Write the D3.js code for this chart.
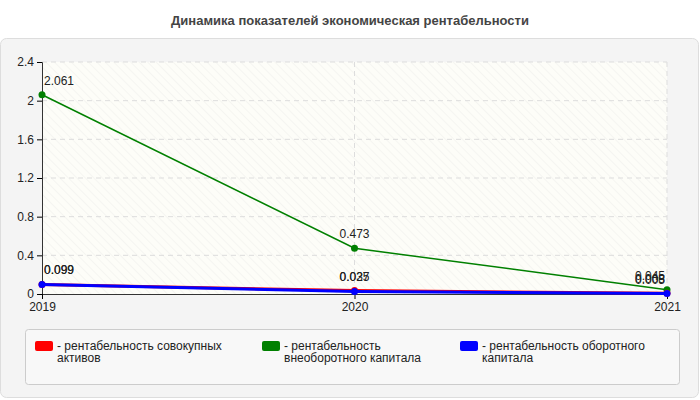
<!DOCTYPE html>
<html><head><meta charset="utf-8">
<script src="https://cdn.jsdelivr.net/npm/d3@7"></script>
<style>body{margin:0;font-family:Arial,"Liberation Sans",sans-serif;background:#fff}</style>
</head><body><main></main>
<script>
// Data
const years = ["2019", "2020", "2021"];
const seriesNames = ["рентабельность совокупных активов", "рентабельность внеоборотного капитала", "рентабельность оборотного капитала"];
const assets = [0.099, 0.035, 0.008];
const fixedCapital = [2.061, 0.473, 0.045];
const workingCapital = [0.099, 0.027, 0.005];
const colors = ["#ff0000", "#008000", "#0000ff"];
const yTicks = [0, 0.4, 0.8, 1.2, 1.6, 2, 2.4];

const w = 700, h = 400;
const plotLeft = 42, plotRight = 667, plotTop = 62, plotBottom = 294;

const svg = d3.select("main").append("svg").attr("width", w).attr("height", h);

// Title
svg.append("text").attr("x", w / 2).attr("y", 25).attr("text-anchor", "middle")
  .attr("font-size", 13).attr("font-weight", "bold").attr("fill", "#444")
  .text("Динамика показателей экономическая рентабельности");

// Panel
svg.append("rect").attr("x", 0.5).attr("y", 38.5).attr("width", w - 2).attr("height", h - 41)
  .attr("rx", 6).attr("fill", "#f4f4f4").attr("stroke", "#ddd");

// Plot background with hatch
const defs = svg.append("defs");
const pat = defs.append("pattern").attr("id", "hatch").attr("width", 6).attr("height", 6)
  .attr("patternUnits", "userSpaceOnUse").attr("patternTransform", "rotate(-45)");
pat.append("rect").attr("width", 6).attr("height", 6).attr("fill", "#fdfdf8");
pat.append("line").attr("x1", 0).attr("y1", 0).attr("x2", 0).attr("y2", 6).attr("stroke", "#eeeeea").attr("stroke-width", 1);
svg.append("rect").attr("x", plotLeft).attr("y", plotTop).attr("width", plotRight - plotLeft).attr("height", plotBottom - plotTop)
  .attr("fill", "url(#hatch)");

const x = d3.scalePoint().domain(years).range([plotLeft, plotRight]);
const y = d3.scaleLinear().domain([0, 2.4]).range([plotBottom, plotTop]);

// Grid
svg.append("g").selectAll("line").data(yTicks.slice(1)).join("line")
  .attr("x1", plotLeft).attr("x2", plotRight).attr("y1", d => y(d)).attr("y2", d => y(d))
  .attr("stroke", "#ddd").attr("stroke-dasharray", "5,4");
svg.append("g").selectAll("line").data(years.slice(1)).join("line")
  .attr("x1", d => x(d)).attr("x2", d => x(d)).attr("y1", plotTop).attr("y2", plotBottom)
  .attr("stroke", "#ddd").attr("stroke-dasharray", "5,4");

// Axes
const yAxis = svg.append("g").attr("transform", `translate(${plotLeft},0)`)
  .call(d3.axisLeft(y).tickValues(yTicks).tickSize(5).tickFormat(d => d3.format("~g")(d)));
const xAxis = svg.append("g").attr("transform", `translate(0,${plotBottom})`)
  .call(d3.axisBottom(x).tickSize(5).tickSizeOuter(0));
[xAxis, yAxis].forEach(a => {
  a.selectAll("text").attr("font-size", 12).attr("fill", "#222").attr("font-family", "Arial, Liberation Sans, sans-serif");
  a.select(".domain").attr("stroke", "#333");
});

// Lines
const allSeries = [fixedCapital, assets, workingCapital];
const allColors = [colors[1], colors[0], colors[2]];
const line = d3.line().x((d, i) => x(years[i])).y(d => y(d));
allSeries.forEach((s, k) => {
  const g = svg.append("g");
  g.append("path").datum(s).attr("d", line).attr("fill", "none")
    .attr("stroke", allColors[k]).attr("stroke-width", k === 0 ? 1.5 : 3);
  g.selectAll("circle").data(s).join("circle")
    .attr("cx", (d, i) => x(years[i])).attr("cy", d => y(d)).attr("r", 3.5).attr("fill", allColors[k]);
  g.selectAll("text").data(s).join("text")
    .attr("x", (d, i) => x(years[i]) + (i === 0 ? 2 : i === 2 ? -2 : 0))
    .attr("y", d => y(d) - 10)
    .attr("text-anchor", (d, i) => i === 0 ? "start" : i === 2 ? "end" : "middle")
    .attr("font-size", 12).attr("fill", "#222").text(d => d3.format(".3f")(d));
});

// Legend
svg.append("rect").attr("x", 25.5).attr("y", 329.5).attr("width", 654).attr("height", 55)
  .attr("fill", "#f8f8f8").attr("stroke", "#ccc").attr("rx", 3);
const legendX = [35, 262, 460];
const legendLines = [["- рентабельность совокупных", "активов"], ["- рентабельность", "внеоборотного капитала"], ["- рентабельность оборотного", "капитала"]];
legendX.forEach((lx, i) => {
  svg.append("rect").attr("x", lx).attr("y", 341).attr("width", 18).attr("height", 10).attr("rx", 2).attr("fill", colors[i]);
  legendLines[i].forEach((t, j) => {
    svg.append("text").attr("x", lx + 22).attr("y", 350 + j * 12).attr("font-size", 12).attr("fill", "#222").text(t);
  });
});
</script></body></html>
